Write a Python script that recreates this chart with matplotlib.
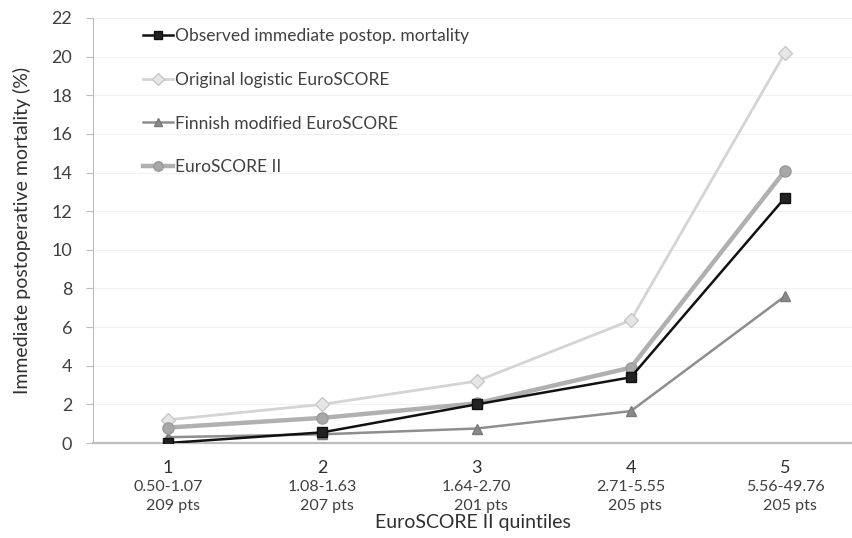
import numpy as np
import matplotlib
matplotlib.use("Agg")
import matplotlib.pyplot as plt

plt.rcParams['font.family'] = ['Lato', 'DejaVu Sans']

quintiles = [1, 2, 3, 4, 5]
score_ranges = ['0.50-1.07', '1.08-1.63', '1.64-2.70', '2.71-5.55', '5.56-49.76']
patients = ['209 pts', '207 pts', '201 pts', '205 pts', '205 pts']

observed = [0.0, 0.55, 2.0, 3.4, 12.7]
logistic_es = [1.2, 2.0, 3.2, 6.35, 20.2]
finnish_es = [0.3, 0.45, 0.75, 1.65, 7.6]
euroscore2 = [0.8, 1.3, 2.05, 3.9, 14.1]

W, H = 852, 538
fig = plt.figure(figsize=(W / 100, H / 100), dpi=100)
ax = fig.add_axes([93 / W, 1 - 443 / H, (852 - 93) / W, (443 - 18) / H])

x = np.array(quintiles)

ax.plot(x, logistic_es, color='#d4d4d4', lw=2.0, marker='D', ms=7,
        mfc='#e6e6e6', mec='#c8c8c8', label='Original logistic EuroSCORE', zorder=2)
ax.plot(x, finnish_es, color='#8e8e8e', lw=1.8, marker='^', ms=7,
        mfc='#8a8a8a', mec='#7a7a7a', label='Finnish modified EuroSCORE', zorder=3)
ax.plot(x, euroscore2, color='#b0b0b0', lw=3.2, marker='o', ms=8,
        mfc='#a8a8a8', mec='#9a9a9a', label='EuroSCORE II', zorder=4)
ax.plot(x, observed, color='#111111', lw=1.8, marker='s', ms=6.5,
        mfc='#222222', mec='#111111', label='Observed immediate postop. mortality', zorder=5)

ax.set_xlim(0.514, 5.434)
ax.set_ylim(0, 22)
ax.set_yticks(np.arange(0, 23, 2))
ax.yaxis.grid(True, color='#f1f1f1', lw=0.8)
ax.set_axisbelow(True)

for s in ['top', 'right']:
    ax.spines[s].set_visible(False)
ax.spines['left'].set_color('#bdbdbd')
ax.spines['bottom'].set_color('#bdbdbd')
ax.spines['bottom'].set_linewidth(1.6)
ax.tick_params(axis='y', length=5, color='#bdbdbd', labelsize=13,
               labelcolor='#404040', pad=10)

# quintile number as the tick label, score range and patient count below it
ax.set_xticks(x)
ax.set_xticklabels([str(q) for q in quintiles], fontsize=13, color='#303030')
ax.tick_params(axis='x', length=0, pad=12)
for xi, rng, n in zip(x, score_ranges, patients):
    ax.text(xi, -0.104, rng, transform=ax.get_xaxis_transform(), ha='center',
            va='center', fontsize=11.5, color='#404040')
    ax.text(xi + 0.03, -0.149, n, transform=ax.get_xaxis_transform(), ha='center',
            va='center', fontsize=11.5, color='#404040')

ax.set_xlabel('EuroSCORE II quintiles', fontsize=14, color='#303030', va='center')
ax.xaxis.set_label_coords(0.5, -0.188)
ax.set_ylabel('Immediate postoperative mortality (%)', fontsize=14,
              color='#303030', va='center')
ax.yaxis.set_label_coords(-0.093, 0.5)

handles, labels = ax.get_legend_handles_labels()
order = [3, 0, 1, 2]
leg = ax.legend([handles[i] for i in order], [labels[i] for i in order],
                loc='upper left', bbox_to_anchor=(143 / W, 1 - 28 / H),
                bbox_transform=fig.transFigure, frameon=False, fontsize=12.5,
                handlelength=1.7, handletextpad=0.12, labelspacing=1.6,
                borderpad=0, borderaxespad=0, markerscale=0.85)
for t in leg.get_texts():
    t.set_color('#404040')

fig.savefig('out.png', dpi=100)
